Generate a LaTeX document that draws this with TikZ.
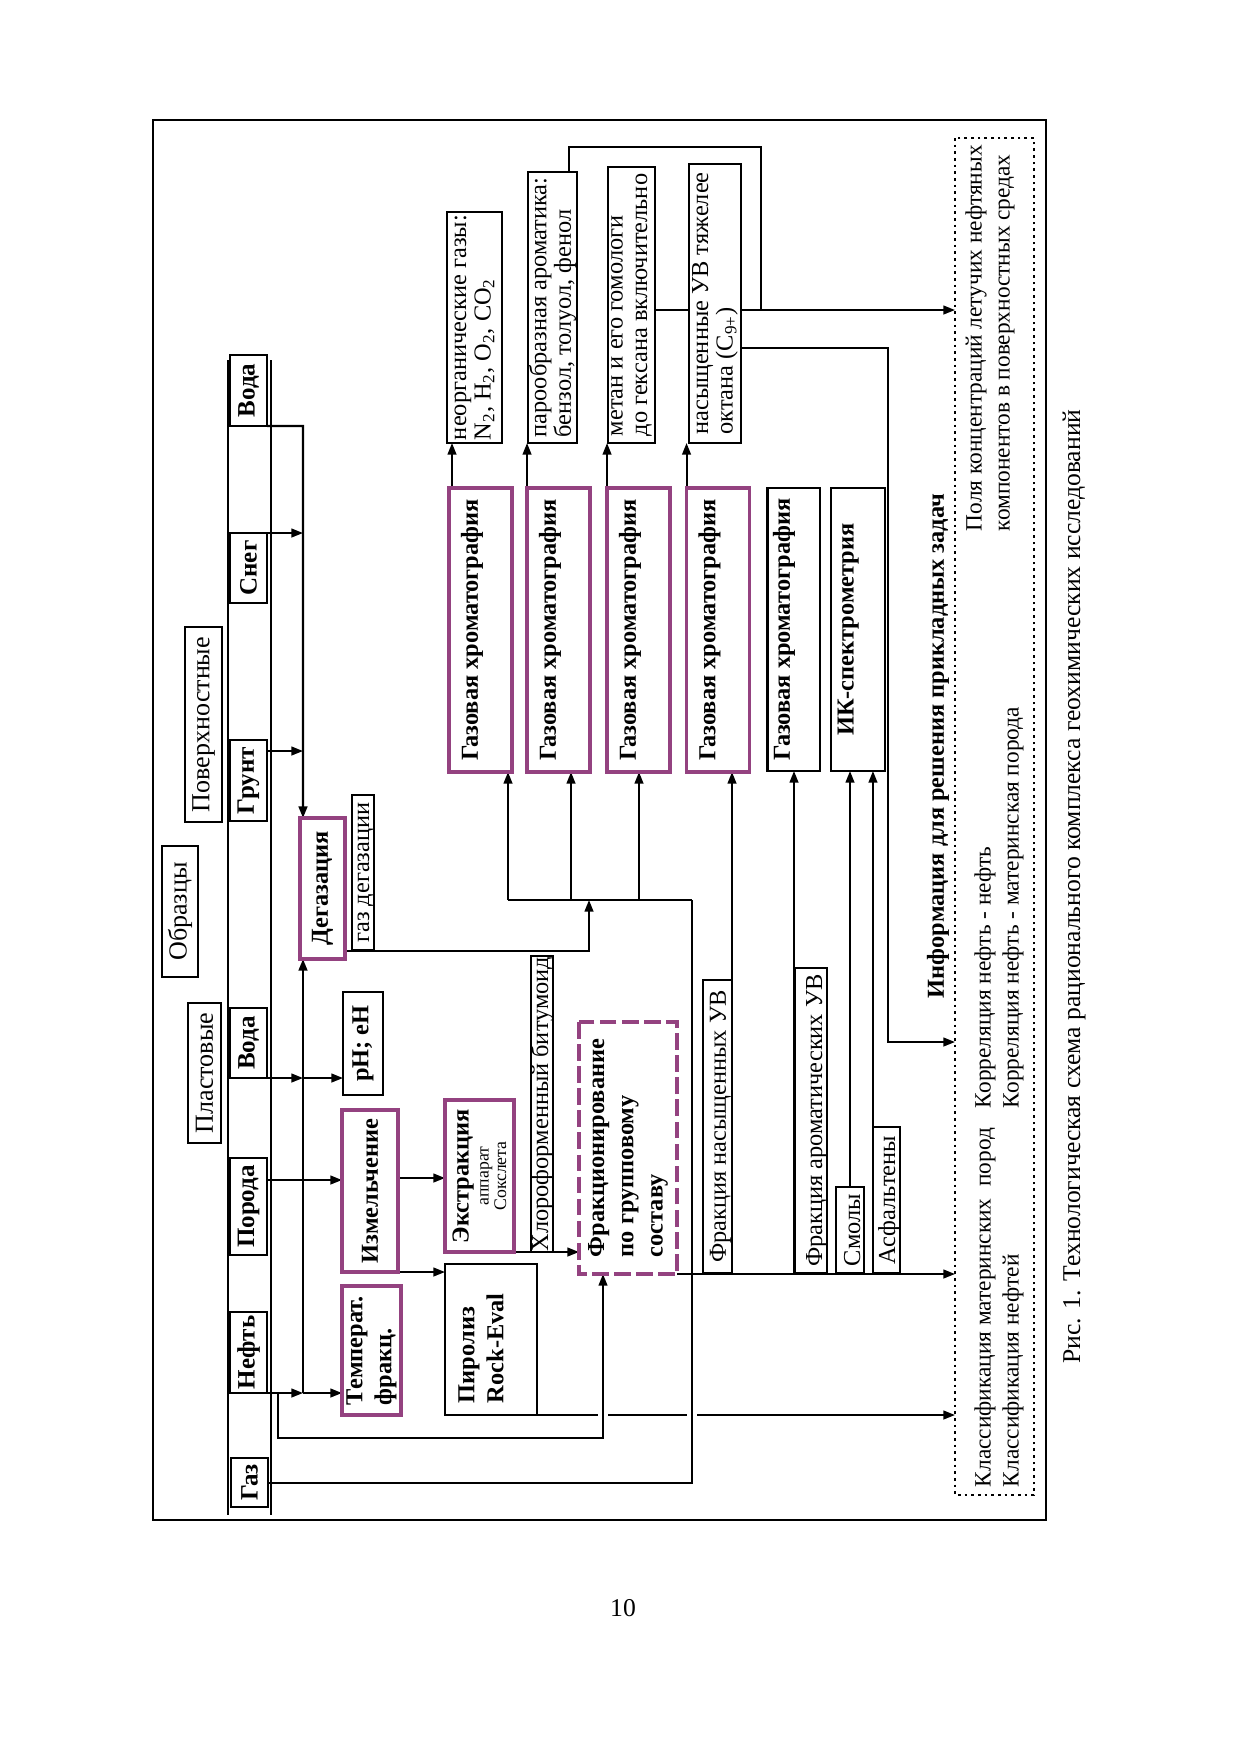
\documentclass[tikz,border=0pt]{standalone}
\usepackage{fontspec}
\setmainfont{Liberation Serif}
\usetikzlibrary{arrows.meta}
\pgfdeclarelayer{bg}
\pgfsetlayers{bg,main}
\definecolor{ppl}{RGB}{148,66,128}
\newcommand\fsamp{\bfseries\fontsize{12}{12}\selectfont}
\newcommand\fhead{\fontsize{12.5}{13}\selectfont}
\newcommand\fproc{\bfseries\fontsize{11.7}{14}\selectfont}
\newcommand\freg{\fontsize{11.7}{11.7}\selectfont}
\newcommand\fregB{\fontsize{11.2}{13.4}\selectfont}
\newcommand\fsmall{\fontsize{8.5}{8.5}\selectfont}
\newcommand\fcap{\fontsize{12.3}{14}\selectfont}
\tikzset{
 every node/.append style={inner sep=0pt, outer sep=0pt},
 rb/.style 2 args={rotate=90, minimum width={#1*0.48pt}, minimum height={#2*0.48pt}},
 thinbox/.style={draw, line width=0.55pt, fill=white},
 pbox/.style={draw=ppl, line width=1.5pt, fill=white},
 kbox/.style={draw, line width=1.4pt, fill=white},
 fbox/.style={draw=ppl, line width=1.5pt, fill=white, dash pattern=on 8pt off 2.6pt},
 infob/.style={draw, line width=1pt, dash pattern=on 1.3pt off 1.9pt},
 gcb/.style={rotate=90, minimum width={284*0.48pt}, font=\fproc},
 conn/.style={line width=0.95pt},
 arr/.style={conn, -{Triangle[length=5.6pt,width=4.2pt]}},
 outerframe/.style={line width=0.6pt},
}
\begin{document}
\begin{tikzpicture}[x=0.48pt,y=-0.48pt]
\useasboundingbox (0,0) rectangle (1241,1755);
\draw[outerframe] (153,120) rectangle (1046,1520);

% sample boxes
\node[thinbox, rb={71}{37}, font=\fsamp] (vodaS) at (248.5,390.5) {Вода};
\node[thinbox, rb={70}{37}, font=\fsamp] (sneg) at (248.5,568) {Снег};
\node[thinbox, rb={81}{37}, font=\fsamp] (grunt) at (248.5,780.5) {Грунт};
\node[thinbox, rb={70}{37}, font=\fsamp] (vodaP) at (248.5,1043) {Вода};
\node[thinbox, rb={97}{37}, font=\fsamp] (poroda) at (248.5,1206.5) {Порода};
\node[thinbox, rb={81}{37}, font=\fsamp] (neft) at (248.5,1352.5) {Нефть};
\node[thinbox, rb={49}{37}, font=\fsamp] (gaz) at (249.5,1482.5) {Газ};

% headers
\node[thinbox, rb={140}{33}, font=\fhead] (plast) at (204.5,1073) {Пластовые};
\node[thinbox, rb={131}{36}, font=\fhead] (obr) at (180,911.5) {Образцы};
\node[thinbox, rb={195}{37}, font=\fhead] (pov) at (203.5,724.5) {Поверхностные};

% processes
\node[pbox, rb={129}{59}, font=\fproc, align=left] (temp) at (371.5,1350.5) {Температ.\\фракц.};
\node[pbox, rb={162}{56}, font=\fproc] (izm) at (370,1191) {Измельчение};
\node[thinbox, rb={103}{40}, font=\fproc] (ph) at (363,1043.5) {pH; eH};
\node[pbox, rb={141}{45}, font=\fproc] (deg) at (322.5,888.5) {Дегазация};
\node[thinbox, rb={155}{22}, font=\freg, text height=8.2pt, text depth=2.4pt] (gazdeg) at (363,872.5) {газ дегазации};
\node[pbox, rb={152}{69}, align=center, font=\fsmall] (extr) at (479.5,1176) {{\fproc Экстракция}\\[1pt]аппарат\\Сокслета};
\node[thinbox, rb={151}{92}] (piro) at (491,1339.5) {};
\node[rotate=90, anchor=west, align=left, font=\fproc] (pirot) at (481,1403) {Пиролиз\\Rock-Eval};
\node[thinbox, rb={296}{22}, font=\freg, text height=8.2pt, text depth=2.4pt] (hlor) at (542,1104) {Хлороформенный битумоид};
\node[fbox, rb={252}{98}, align=left, font=\fproc] (frac) at (628,1148) {Фракционирование\\по групповому\\составу};

% fractions
\node[thinbox, rb={293}{29}, font=\freg, text height=11pt, text depth=2.9pt] (fnas) at (717.5,1126.5) {Фракция насыщенных УВ};
\node[thinbox, rb={305}{32}, font=\freg, text height=13pt, text depth=2.4pt] (farom) at (811,1120.5) {Фракция ароматических УВ};
\node[thinbox, rb={86}{28}, font=\freg, text height=11.6pt, text depth=1.8pt] (smol) at (850,1230) {Смолы};
\node[thinbox, rb={146}{27}, font=\freg, text height=10.6pt, text depth=2.4pt] (asf) at (886.5,1200) {Асфальтены};

% analyses
\node[pbox, gcb, text height=13.8pt, text depth=16.4pt] (gc1) at (480.5,630) {Газовая хроматография};
\node[pbox, gcb, text height=13.8pt, text depth=16.4pt] (gc2) at (558.5,630) {Газовая хроматография};
\node[pbox, gcb, text height=13.8pt, text depth=16.4pt] (gc3) at (638.5,630) {Газовая хроматография};
\node[pbox, gcb, text height=13.8pt, text depth=16.4pt] (gc4) at (718,630) {Газовая хроматография};
\node[kbox, gcb, minimum width={283*0.48pt}, text height=11pt, text depth=14.4pt] (gc5) at (793.5,629.5) {Газовая хроматография};
\node[kbox, gcb, minimum width={283*0.48pt}, text height=10.8pt, text depth=15.1pt] (ir) at (858,629.5) {ИК-спектрометрия};

% results
\node[thinbox, rb={231}{55}, align=left, font=\freg] (r1) at (474.5,327.5) {неорганические газы:\\N\textsubscript{2}, H\textsubscript{2}, O\textsubscript{2}, CO\textsubscript{2}};
\node[thinbox, rb={271}{49}, align=left, font=\freg] (r2) at (552.5,307.5) {парообразная ароматика:\\бензол, толуол, фенол};
\node[thinbox, rb={276}{47}, align=left, font=\freg] (r3) at (631.5,305) {метан и его гомологи\\до гексана включительно};
\node[thinbox, rb={279}{52}, align=left, font=\freg] (r4) at (715,303.5) {насыщенные УВ тяжелее\\октана (C\textsubscript{9+})};

% information box
\node[infob, rb={1357}{79}] (info) at (994.5,816.5) {};
\node[rotate=90, font=\fproc] (infot) at (938,746) {Информация для решения прикладных задач};
\node[rotate=90, anchor=west, align=left, font=\fregB] (cls) at (999,1487) {Классификация материнских\hspace{0.5em}пород\\Классификация нефтей};
\node[rotate=90, anchor=west, align=left, font=\fregB] (cor) at (999,1108) {Корреляция нефть - нефть\\Корреляция нефть - материнская порода};
\node[rotate=90, anchor=west, align=left, font=\fregB] (fld) at (990,531) {Поля концентраций летучих нефтяных\\компонентов в поверхностных средах};

% caption and page number
\node[rotate=90, font=\fcap] (cap) at (1074,886.5) {Рис. 1. Технологическая схема рационального комплекса геохимических исследований};
\node[font=\fcap] (pnum) at (623,1608) {10};

\begin{pgfonlayer}{bg}
\draw[line width=0.55pt] (228,360) -- (228,1515);
\draw[line width=0.55pt] (271,360) -- (271,1515);
\coordinate (busT) at (303,426);
\coordinate (nb) at (278,1438);
\coordinate (j0) at (508,900);
\coordinate (j1) at (692,900);
\coordinate (j2) at (589,900);
\coordinate (j3) at (571,900);
\coordinate (j4) at (639,900);
\coordinate (k1) at (732,1273);
\coordinate (k2) at (794,1273);
\coordinate (t1) at (761,147);
\coordinate (t2) at (888,1042);
% bus
\draw[arr, line width=1.1pt] (vodaS.south west) -- (busT) -- (busT |- deg.east);
\draw[arr] (sneg.south east) -- (sneg.south east -| busT);
\draw[arr] (grunt.south |- 0,751) -- (busT |- 0,751);
\draw[arr] (vodaP.south west) -- (vodaP.south west -| busT);
\draw[arr] (vodaP.south west -| busT) -- (vodaP.south west -| ph.north);
\draw[arr] (neft.south west) -- (neft.south west -| busT);
\draw[arr] (neft.south west -| busT) -- (neft.south west -| temp.north);
\draw[arr, line width=1.1pt] (neft.south west -| busT) -- (busT |- deg.west);
\draw[arr] (poroda.south |- 0,1180) -- (izm.north |- 0,1180);
\draw[arr] (izm.south |- 0,1178) -- (extr.north |- 0,1178);
\draw[arr] (izm.south west) -- (izm.south west -| piro.north);
\draw[arr] (extr.south west) -- (extr.south west -| frac.north);
% pyrolysis to info, with gaps at crossings
\draw[arr] (piro.south west) -- (piro.south west -| info.north);
\fill[white] (598,1408) rectangle (608,1418);
\fill[white] (687,1408) rectangle (697,1418);
\draw[arr] (nb |- neft.south west) -- (nb) -| (frac.west -| 603,0);
\draw[conn] (gaz.south) -| (j1);
\draw[conn] (j0) -- (j1);
\draw[arr] (deg.south |- 0,951) -| (j2);
\draw[arr] (j0) -- (j0 |- gc1.west);
\draw[arr] (j3) -- (j3 |- gc2.west);
\draw[arr] (j4) -- (j4 |- gc3.west);
% fractions
\draw[arr] (frac.south west) -- (frac.south west -| info.north);
\draw[arr] (k1) -- (k1 |- gc4.west);
\draw[arr] (k2) -- (k2 |- gc5.west);
\draw[arr] (smol.east) -- (smol.east |- ir.west);
\draw[arr] (asf.north east) -- (asf.north east |- ir.west);
% to results
\draw[arr] (452,0 |- gc1.east) -- (452,0 |- r1.west);
\draw[arr] (gc2.north east) -- (gc2.north east |- r2.west);
\draw[arr] (gc3.north east) -- (gc3.north east |- r3.west);
\draw[arr] (gc4.north east) -- (gc4.north east |- r4.west);
\draw[conn] (r2.east -| 569,0) |- (t1) -- (t1 |- 0,310);
\draw[arr] (r3.south |- 0,310) -- (info.north |- 0,310);
\draw[arr] (r4.south |- 0,348) -| (t2) -- (t2 -| info.north);
\end{pgfonlayer}
\end{tikzpicture}
\end{document}
